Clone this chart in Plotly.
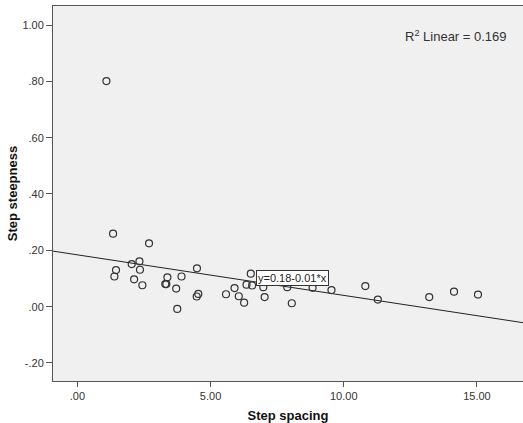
import plotly.graph_objects as go

# Data
step_spacing = [1.09, 1.34, 2.69, 1.45, 1.39, 2.04, 2.33, 2.35, 2.13, 2.44,
                3.30, 3.34, 3.38, 3.91, 3.71, 3.75, 4.49, 4.54, 4.48, 5.58,
                5.90, 6.06, 6.26, 6.35, 6.51, 6.56, 6.98, 7.03, 7.88, 8.05,
                8.83, 9.54, 10.81, 11.28, 13.21, 14.14, 15.04]
step_steepness = [0.801, 0.259, 0.225, 0.130, 0.107, 0.151, 0.161, 0.131, 0.097, 0.076,
                  0.080, 0.080, 0.104, 0.107, 0.064, -0.008, 0.136, 0.045, 0.036, 0.044,
                  0.066, 0.037, 0.014, 0.078, 0.117, 0.075, 0.069, 0.034, 0.069, 0.012,
                  0.067, 0.059, 0.073, 0.025, 0.034, 0.053, 0.043]

fit_intercept = 0.184
fit_slope = -0.0144
r2_text = "R<sup>2</sup> Linear = 0.169"
fit_label = "y=0.18-0.01*x"

x_tickvals = [0, 5, 10, 15]
x_ticktext = [".00", "5.00", "10.00", "15.00"]
y_tickvals = [-0.2, 0, 0.2, 0.4, 0.6, 0.8, 1.0]
y_ticktext = ["-.20", ".00", ".20", ".40", ".60", ".80", "1.00"]

x_range = [-0.915, 16.73]
y_range = [-0.264, 1.0675]

fig = go.Figure()

fit_x = x_range
fit_y = [fit_intercept + fit_slope * v for v in fit_x]
fig.add_trace(go.Scatter(x=fit_x, y=fit_y, mode="lines",
                         line=dict(color="#222222", width=1), hoverinfo="skip",
                         showlegend=False))

fig.add_trace(go.Scatter(x=step_spacing, y=step_steepness, mode="markers",
                         marker=dict(symbol="circle-open", size=7,
                                     color="#333333", line=dict(width=1.2, color="#333333")),
                         showlegend=False))

font_main = "Liberation Sans, Arial, sans-serif"

fig.add_annotation(x=6.70, y=0.102, xref="x", yref="y", text=fit_label,
                   showarrow=False, xanchor="left", yanchor="middle",
                   bgcolor="white", bordercolor="#333333", borderwidth=1, borderpad=1,
                   font=dict(family=font_main, size=11, color="#222222"))

fig.add_annotation(x=(456 - 53) / 470, y=(381 - 36) / 375, xref="paper", yref="paper",
                   text=r2_text, showarrow=False, xanchor="center", yanchor="middle",
                   font=dict(family=font_main, size=13, color="#333333"))

fig.update_layout(
    width=523, height=423,
    margin=dict(l=53, r=0, t=6, b=42),
    paper_bgcolor="white",
    plot_bgcolor="#F0F0F0",
    font=dict(family=font_main, size=11, color="#333333"),
    xaxis=dict(range=x_range, tickvals=x_tickvals, ticktext=x_ticktext,
               showgrid=False, zeroline=False, showline=True, linecolor="#555555",
               linewidth=1, mirror=True, ticks="outside", ticklen=5, tickcolor="#555555",
               tickfont=dict(size=11, color="#333333"),
               title=dict(text="<b>Step spacing</b>", standoff=10,
                          font=dict(size=13, color="#111111"))),
    yaxis=dict(range=y_range, tickvals=y_tickvals, ticktext=y_ticktext,
               showgrid=False, zeroline=False, showline=True, linecolor="#555555",
               linewidth=1, mirror=True, ticks="outside", ticklen=6, tickcolor="#555555",
               tickfont=dict(size=11, color="#333333"),
               title=dict(text="<b>Step steepness</b>", standoff=1,
                          font=dict(size=13, color="#111111"))),
)

fig.write_html("out.html", config={"displayModeBar": False},
               post_script="document.body.style.margin='0';document.body.style.overflow='hidden';")
